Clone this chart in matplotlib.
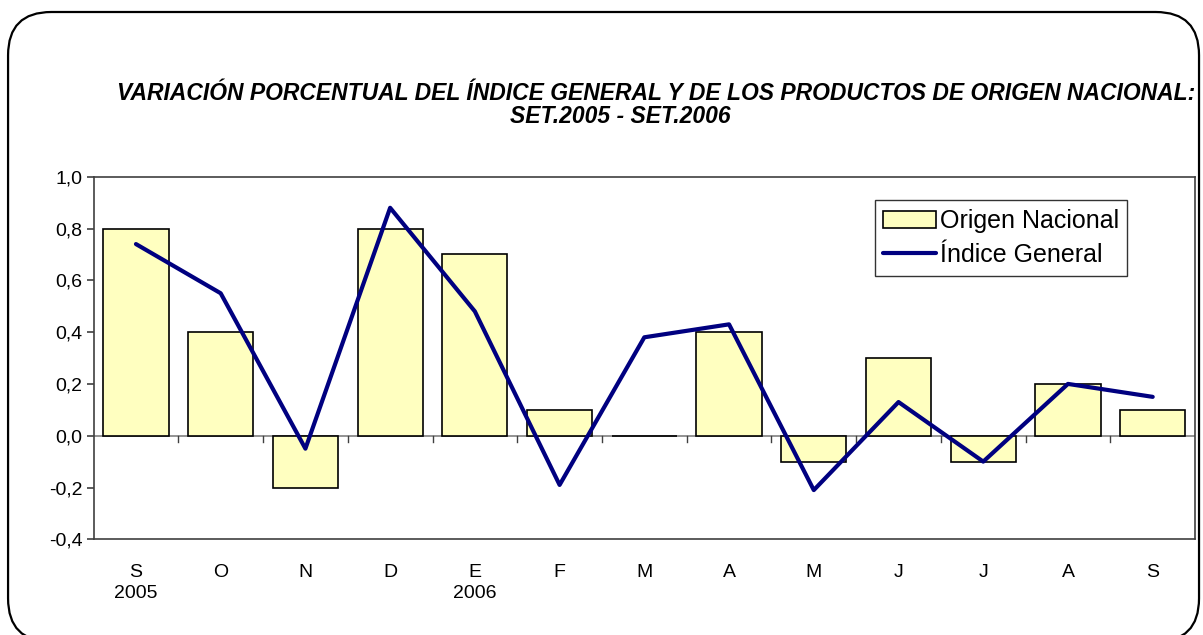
import numpy as np
import matplotlib
matplotlib.use("Agg")
import matplotlib.pyplot as plt
from matplotlib.patches import FancyBboxPatch, Rectangle
from matplotlib.legend_handler import HandlerPatch
from matplotlib.ticker import FuncFormatter

## data
months = ["S", "O", "N", "D", "E", "F", "M", "A", "M", "J", "J", "A", "S"]
years = ["2005", "", "", "", "2006", "", "", "", "", "", "", "", ""]
origen_nacional = [0.8, 0.4, -0.2, 0.8, 0.7, 0.1, 0.0, 0.4, -0.1, 0.3, -0.1, 0.2, 0.1]
indice_general = [0.74, 0.55, -0.05, 0.88, 0.48, -0.19, 0.38, 0.43, -0.21, 0.13, -0.10, 0.20, 0.15]

plt.rcParams['font.family'] = ['Liberation Sans', 'DejaVu Sans']

fig = plt.figure(figsize=(12.03, 6.35), dpi=100)
# rounded frame round the whole chart (bottom edge runs just off the image)
frame = FancyBboxPatch((0.0067, -0.0105), 0.990, 0.9916,
                       boxstyle="round,pad=0,rounding_size=0.036",
                       transform=fig.transFigure, facecolor="none",
                       edgecolor="black", linewidth=1.6,
                       mutation_aspect=1203 / 635, zorder=-1)
fig.patches.append(frame)

ax = fig.add_axes([0.0778, 0.1507, 0.9156, 0.571])
ax.set_facecolor("none")
x = np.arange(len(months))
bars = ax.bar(x, origen_nacional, width=0.77, color="#FFFFC0", edgecolor="black",
              linewidth=1.2, label="Origen Nacional", zorder=2)
line, = ax.plot(x, indice_general, color="#000080", linewidth=3, label="Índice General",
                zorder=3, solid_capstyle="round")
ax.axhline(0, color="#808080", linewidth=1.2, zorder=1)

ax.set_xlim(-0.5, len(months) - 0.5)
ax.set_ylim(-0.4, 1.0)
ax.set_yticks(np.arange(-0.4, 1.01, 0.2))
ax.yaxis.set_major_formatter(FuncFormatter(lambda v, p: f"{v:.1f}".replace(".", ",").replace("-0,0", "0,0")))
ax.tick_params(axis="y", labelsize=14, length=5, color="#404040", width=1.2, pad=3)
ax.set_xticks(x)
ax.set_xticklabels([m + "\n" + yr for m, yr in zip(months, years)], fontsize=14,
                   linespacing=1.3)
ax.tick_params(axis="x", length=0, pad=18)

# small ticks on the zero line between categories
for b in x[:-1] + 0.5:
    ax.plot([b, b], [0, -0.025], color="#404040", linewidth=1.0, zorder=1)

for s in ax.spines.values():
    s.set_color("#404040")
    s.set_linewidth(1.2)


# flat legend swatch, like the original
def flat_box(legend, orig_handle, xdescent, ydescent, width, height, fontsize):
    h = height * 0.55
    return Rectangle((-xdescent, -ydescent + (height - h) / 2), width, h)


leg = ax.legend([bars, line], ["Origen Nacional", "Índice General"],
                loc="upper left", bbox_to_anchor=(0.709, 0.935), fontsize=18,
                frameon=True, fancybox=False, edgecolor="black",
                handlelength=2.1, handletextpad=0.15, borderpad=0.35,
                labelspacing=0.4, borderaxespad=0,
                handler_map={bars.patches[0].__class__: HandlerPatch(patch_func=flat_box)})
leg.get_frame().set_linewidth(1.0)

title_font = dict(fontsize=16.5, fontstyle="italic", fontweight="bold",
                  family=["Liberation Sans Narrow", "Liberation Sans", "DejaVu Sans"])
fig.text(0.545, 0.853, "VARIACIÓN PORCENTUAL DEL ÍNDICE GENERAL Y DE LOS PRODUCTOS DE ORIGEN NACIONAL:",
         ha="center", va="center", **title_font)
fig.text(0.516, 0.817, "SET.2005 - SET.2006", ha="center", va="center", **title_font)

fig.savefig("out.png", dpi=100)
